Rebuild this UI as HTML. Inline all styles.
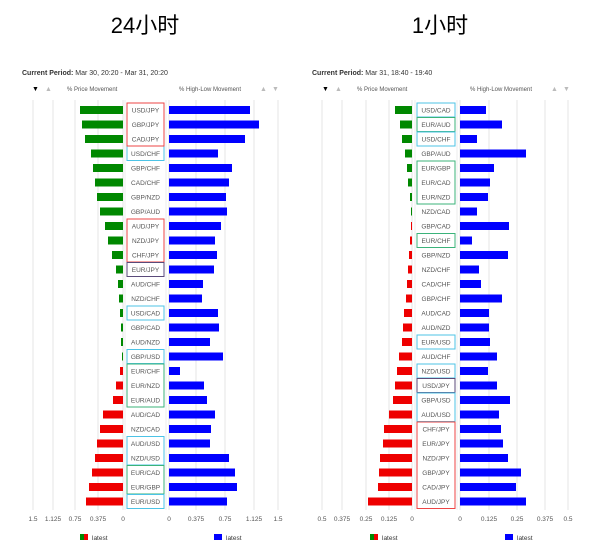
<!DOCTYPE html>
<html><head><meta charset="utf-8"><style>
body{margin:0;background:#fff;width:601px;height:553px;overflow:hidden}
svg text{font-family:"Liberation Sans",sans-serif}
</style></head><body>
<svg id="s" width="601" height="553" xmlns="http://www.w3.org/2000/svg">
<text x="145" y="33" font-size="22" text-anchor="middle" font-family="Liberation Sans, Noto Sans CJK SC, sans-serif">24小时</text>
<text x="440" y="33" font-size="22" text-anchor="middle" font-family="Liberation Sans, Noto Sans CJK SC, sans-serif">1小时</text>
</svg>
<script>
const s=document.getElementById('s');let h='';
function chart(o){
 h+=`<text x="${o.tx}" y="75" font-size="7" fill="#333"><tspan font-weight="bold">Current Period:</tspan> ${o.period}</text>`;
 h+=`<text x="${o.tx+10}" y="91" font-size="7">▼</text><text x="${o.tx+23}" y="91" font-size="7" fill="#bbb">▲</text>`;
 h+=`<text x="${o.tx+45}" y="91" font-size="6" fill="#555">% Price Movement</text>`;
 h+=`<text x="${o.rz+10}" y="91" font-size="6" fill="#555">% High-Low Movement</text>`;
 h+=`<text x="${o.rz+91}" y="91" font-size="7" fill="#bbb">▲</text><text x="${o.rz+103}" y="91" font-size="7" fill="#bbb">▼</text>`;
 // grid
 o.lt.forEach(t=>{h+=`<line x1="${t[1]}" y1="100" x2="${t[1]}" y2="510" stroke="#e6e6e6"/><text x="${t[1]}" y="521" font-size="6.5" text-anchor="middle" fill="#555">${t[0]}</text>`});
 o.rt.forEach(t=>{h+=`<line x1="${t[1]}" y1="100" x2="${t[1]}" y2="510" stroke="#e6e6e6"/><text x="${t[1]}" y="521" font-size="6.5" text-anchor="middle" fill="#555">${t[0]}</text>`});
 h+=`<rect x="${o.lx0}" y="100" width="${o.lx1-o.lx0}" height="410" fill="#fff"/>`;
 h+=`<line x1="${o.lx0}" y1="100" x2="${o.lx0}" y2="510" stroke="#eee"/><line x1="${o.lx1}" y1="100" x2="${o.lx1}" y2="510" stroke="#eee"/>`;
 o.rows.forEach((r,i)=>{const y=110+i*14.5;
  h+=`<rect x="${r[1]}" y="${y-4}" width="${o.lz-r[1]}" height="8" fill="${r[3]?'#e00':'#080'}"/>`;
  h+=`<rect x="${o.rz}" y="${y-4}" width="${r[2]-o.rz}" height="8" fill="#00f"/>`;
  h+=`<text x="${(o.lx0+o.lx1)/2}" y="${y+2.5}" font-size="6.5" text-anchor="middle" fill="#555">${r[0]}</text>`;});
 o.boxes.forEach(b=>{const y0=110+b[0]*14.5-7,y1=110+b[1]*14.5+7;
  h+=`<rect x="${o.lx0+2}" y="${y0}" width="${o.lx1-o.lx0-4}" height="${y1-y0}" fill="none" stroke="${b[2]}" stroke-width="1"/>`;});
 h+=`<rect x="${o.tx+58}" y="534" width="4" height="6" fill="#080"/><rect x="${o.tx+62}" y="534" width="4" height="6" fill="#e00"/><text x="${o.tx+70}" y="540" font-size="6.5" fill="#333">latest</text>`;
 h+=`<rect x="${o.rz+45}" y="534" width="8" height="6" fill="#00f"/><text x="${o.rz+57}" y="540" font-size="6.5" fill="#333">latest</text>`;
}
const C='#4cc3e6',R='#e44',G='#3bb37a',D='#5a4a7a';
chart({tx:22,period:'Mar 30, 20:20 - Mar 31, 20:20',lz:123,rz:169,lx0:125,lx1:166,
 lt:[['1.5',33],['1.125',53],['0.75',75],['0.375',98],['0',123]],
 rt:[['0',169],['0.375',196],['0.75',225],['1.125',254],['1.5',278]],
 rows:[['USD/JPY',80,250],['GBP/JPY',82,259],['CAD/JPY',85,245],['USD/CHF',91,218],['GBP/CHF',93,232],['CAD/CHF',95,229],['GBP/NZD',97,226],['GBP/AUD',100,227],['AUD/JPY',105,221],['NZD/JPY',108,215],['CHF/JPY',112,217],['EUR/JPY',116,214],['AUD/CHF',118,203],['NZD/CHF',119,202],['USD/CAD',120,218],['GBP/CAD',121,219],['AUD/NZD',121,210],['GBP/USD',122,223],['EUR/CHF',120,180,1],['EUR/NZD',116,204,1],['EUR/AUD',113,207,1],['AUD/CAD',103,215,1],['NZD/CAD',100,211,1],['AUD/USD',97,210,1],['NZD/USD',95,229,1],['EUR/CAD',92,235,1],['EUR/GBP',89,237,1],['EUR/USD',86,227,1]],
 boxes:[[0,3,C],[0,2,R],[8,10,R],[11,11,D],[14,14,C],[17,17,C],[18,20,G],[23,24,C],[25,26,G],[27,27,C]]});
chart({tx:312,period:'Mar 31, 18:40 - 19:40',lz:412,rz:460,lx0:415,lx1:457,
 lt:[['0.5',322],['0.375',342],['0.25',366],['0.125',389],['0',412]],
 rt:[['0',460],['0.125',489],['0.25',517],['0.375',545],['0.5',568]],
 rows:[['USD/CAD',395,486],['EUR/AUD',400,502],['USD/CHF',402,477],['GBP/AUD',405,526],['EUR/GBP',407,494],['EUR/CAD',408,490],['EUR/NZD',410,488],['NZD/CAD',411,477],['GBP/CAD',411,509,1],['EUR/CHF',410,472,1],['GBP/NZD',409,508,1],['NZD/CHF',408,479,1],['CAD/CHF',407,481,1],['GBP/CHF',406,502,1],['AUD/CAD',404,489,1],['AUD/NZD',403,489,1],['EUR/USD',402,490,1],['AUD/CHF',399,497,1],['NZD/USD',397,488,1],['USD/JPY',395,497,1],['GBP/USD',393,510,1],['AUD/USD',389,499,1],['CHF/JPY',384,501,1],['EUR/JPY',383,503,1],['NZD/JPY',380,508,1],['GBP/JPY',379,521,1],['CAD/JPY',378,516,1],['AUD/JPY',368,526,1]],
 boxes:[[0,0,C],[1,1,G],[2,2,C],[4,6,G],[9,9,G],[16,16,C],[18,18,C],[19,19,D],[20,21,C],[22,27,R]]});
s.insertAdjacentHTML('beforeend',h);
</script>
</body></html>
